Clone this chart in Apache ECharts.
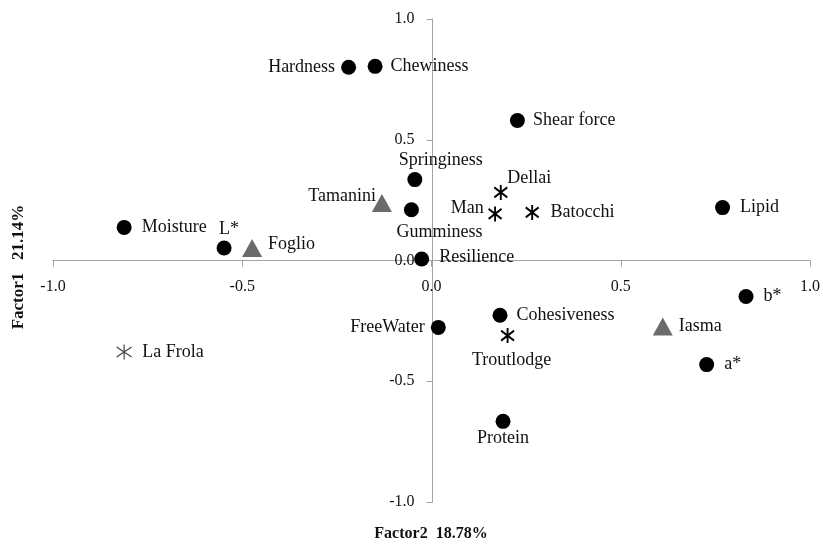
<!DOCTYPE html>
<html>
<head>
<meta charset="utf-8">
<style>
  html, body { margin: 0; padding: 0; background: #fff; }
  #chart { width: 823px; height: 544px; }
</style>
<script src="https://cdn.jsdelivr.net/npm/echarts@6/dist/echarts.min.js"></script>
</head>
<body>
<div id="chart"></div>
<script>
// Factor loadings of the measured variables
const variableNames = ['Hardness', 'Chewiness', 'Shear force', 'Springiness', 'Gumminess', 'Resilience',
  'Lipid', 'Moisture', 'L*', 'FreeWater', 'Cohesiveness', 'b*', 'a*', 'Protein'];
const variableF2 = [-0.219, -0.149, 0.227, -0.044, -0.053, -0.026, 0.769, -0.812, -0.548, 0.018, 0.181, 0.831, 0.727, 0.189];
const variableF1 = [0.800, 0.804, 0.580, 0.335, 0.210, 0.006, 0.219, 0.137, 0.052, -0.277, -0.227, -0.149, -0.431, -0.666];

// Scores of the strains drawn as triangles
const triangleNames = ['Tamanini', 'Foglio', 'Iasma'];
const triangleF2 = [-0.131, -0.474, 0.611];
const triangleF1 = [0.238, 0.052, -0.273];

// Scores of the strains drawn as asterisks
const starNames = ['Dellai', 'Man', 'Batocchi', 'Troutlodge'];
const starF2 = [0.183, 0.168, 0.266, 0.201];
const starF1 = [0.282, 0.193, 0.199, -0.311];

const lightStarNames = ['La Frola'];
const lightStarF2 = [-0.812];
const lightStarF1 = [-0.379];

const xTitle = 'Factor2  18.78%';
const yTitle = 'Factor1   21.14%';

// Where each point's label sits
const labelPlacement = {
  'Hardness':     { position: 'left',   distance: 6 },
  'Chewiness':    { position: 'right',  distance: 8 },
  'Shear force':  { position: 'right',  distance: 8 },
  'Springiness':  { position: 'top',    distance: 3, offset: [26, 0] },
  'Gumminess':    { position: 'bottom', distance: 6, offset: [28, 0] },
  'Resilience':   { position: 'right',  distance: 10, offset: [0, -2] },
  'Lipid':        { position: 'right',  distance: 10 },
  'Moisture':     { position: 'right',  distance: 10 },
  'L*':           { position: 'top',    distance: 2, offset: [5, 0] },
  'FreeWater':    { position: 'left',   distance: 6 },
  'Cohesiveness': { position: 'right',  distance: 9 },
  'b*':           { position: 'right',  distance: 10 },
  'a*':           { position: 'right',  distance: 10 },
  'Protein':      { position: 'bottom', distance: 0 },
  'Tamanini':     { position: 'left',   distance: -4, offset: [0, -7] },
  'Foglio':       { position: 'right',  distance: 6, offset: [0, -4] },
  'Iasma':        { position: 'right',  distance: 6 },
  'Dellai':       { position: 'right',  distance: -1, offset: [0, -14] },
  'Man':          { position: 'left',   distance: 4, offset: [0, -6] },
  'Batocchi':     { position: 'right',  distance: 11 },
  'Troutlodge':   { position: 'bottom', distance: 7, offset: [4, 0] },
  'La Frola':     { position: 'right',  distance: 10 }
};

const FONT = '"Liberation Serif", "Times New Roman", serif';
const labelBase = { show: true, fontFamily: FONT, fontSize: 18, color: '#111', formatter: '{b}' };

function buildPoints(names, xs, ys) {
  return names.map((n, i) => ({
    name: n,
    value: [xs[i], ys[i]],
    label: Object.assign({}, labelBase, labelPlacement[n] || {})
  }));
}

const starPath = 'path://M6.5,0 L6.5,15 M0,2.5 L13,12.5 M13,2.5 L0,12.5';

// Plot area; both ranges are symmetric, so each axis sits at the middle of the grid
const GRID = { left: 53, right: 11, top: 19, bottom: 42 };
const W = 823, H = 544;
const gridW = W - GRID.left - GRID.right;
const gridH = H - GRID.top - GRID.bottom;

function axis(offset, position) {
  return {
    type: 'value',
    position: position,
    offset: offset,
    min: -1,
    max: 1,
    interval: 0.5,
    splitLine: { show: false },
    axisLine: { onZero: false, lineStyle: { color: '#a3a3a3', width: 1 } },
    axisTick: { show: true, length: 6, lineStyle: { color: '#a3a3a3' } },
    axisLabel: {
      fontFamily: FONT, fontSize: 16, color: '#111', margin: 18,
      formatter: v => v.toFixed(1)
    }
  };
}

const chart = echarts.init(document.getElementById('chart'), null, { renderer: 'canvas' });
chart.setOption({
  animation: false,
  backgroundColor: '#fff',
  grid: Object.assign({ containLabel: false }, GRID),
  xAxis: axis(-gridH / 2, 'bottom'),
  yAxis: axis(-gridW / 2, 'left'),
  series: [
    {
      type: 'scatter',
      symbol: 'circle',
      symbolSize: 15,
      itemStyle: { color: '#000', opacity: 1 },
      data: buildPoints(variableNames, variableF2, variableF1),
      z: 3
    },
    {
      type: 'scatter',
      symbol: 'triangle',
      symbolSize: [20, 18],
      itemStyle: { color: '#6b6b6b', opacity: 1 },
      data: buildPoints(triangleNames, triangleF2, triangleF1),
      z: 3
    },
    {
      type: 'scatter',
      symbol: starPath,
      symbolSize: [13, 15],
      itemStyle: { color: 'rgba(0,0,0,0)', borderColor: '#000', borderWidth: 2, opacity: 1 },
      data: buildPoints(starNames, starF2, starF1),
      z: 3
    },
    {
      type: 'scatter',
      symbol: starPath,
      symbolSize: [15, 15],
      itemStyle: { color: 'rgba(0,0,0,0)', borderColor: '#444', borderWidth: 1.2, opacity: 1 },
      data: buildPoints(lightStarNames, lightStarF2, lightStarF1),
      z: 3
    }
  ],
  graphic: [
    {
      type: 'text',
      x: 431, y: 534,
      style: {
        text: xTitle, fontFamily: FONT, fontSize: 16, fontWeight: 'bold',
        fill: '#111', textAlign: 'center', textVerticalAlign: 'middle'
      }
    },
    {
      type: 'text',
      x: 19, y: 267,
      rotation: Math.PI / 2,
      style: {
        text: yTitle, fontFamily: FONT, fontSize: 17, fontWeight: 'bold',
        fill: '#111', textAlign: 'center', textVerticalAlign: 'middle'
      }
    }
  ]
});
</script>
</body>
</html>
